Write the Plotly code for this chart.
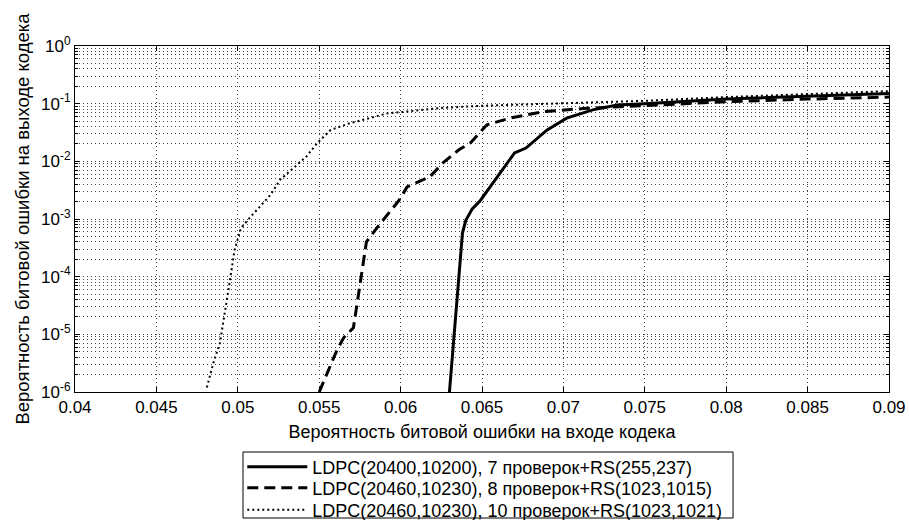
import plotly.graph_objects as go

# Input BER (channel) vs output BER (after decoding) for three concatenated schemes
ber_in_ldpc7 = [0.0630, 0.0638, 0.0640, 0.0644, 0.0649, 0.0655, 0.0662, 0.0670, 0.0677,
                0.0690, 0.0702, 0.0718, 0.0733, 0.0750, 0.0800, 0.0850, 0.0900]
ber_out_ldpc7 = [1e-6, 5.7e-4, 9.4e-4, 1.5e-3, 2.1e-3, 3.6e-3, 7e-3, 1.4e-2, 1.7e-2,
                 3.5e-2, 5.6e-2, 7.8e-2, 9.5e-2, 0.100, 0.120, 0.135, 0.150]

ber_in_ldpc8 = [0.0550, 0.0561, 0.0565, 0.0571, 0.0573, 0.0576, 0.0579, 0.0587, 0.0599,
                0.0604, 0.0618, 0.0626, 0.0636, 0.0643, 0.0653, 0.0667, 0.0688, 0.0714,
                0.0750, 0.0800, 0.0850, 0.0900]
ber_out_ldpc8 = [1e-6, 5.4e-6, 8.7e-6, 1.3e-5, 3e-5, 1e-4, 4e-4, 8e-4, 2.1e-3,
                 3.6e-3, 5.4e-3, 9.4e-3, 1.6e-2, 2.1e-2, 4.3e-2, 5.6e-2, 7.3e-2, 8.3e-2,
                 9.2e-2, 0.108, 0.120, 0.130]

ber_in_ldpc10 = [0.0481, 0.0485, 0.0489, 0.0492, 0.0495, 0.0498, 0.0502, 0.0508, 0.0520,
                 0.0526, 0.0534, 0.0542, 0.0549, 0.0557, 0.0569, 0.0581, 0.0592, 0.0604,
                 0.0624, 0.0650, 0.0700, 0.0750, 0.0800, 0.0850, 0.0900]
ber_out_ldpc10 = [1.2e-6, 3.2e-6, 7e-6, 2.6e-5, 8e-5, 2.9e-4, 7e-4, 1.1e-3, 2.6e-3,
                  4.8e-3, 7.7e-3, 1.2e-2, 2.1e-2, 3.5e-2, 4.6e-2, 5.6e-2, 6.8e-2, 7.3e-2,
                  8.4e-2, 0.092, 0.102, 0.112, 0.130, 0.148, 0.165]

series_names = [
    "LDPC(20400,10200), 7 проверок+RS(255,237)",
    "LDPC(20460,10230), 8 проверок+RS(1023,1015)",
    "LDPC(20460,10230), 10 проверок+RS(1023,1021)",
]

x_ticks = [0.04, 0.045, 0.05, 0.055, 0.06, 0.065, 0.07, 0.075, 0.08, 0.085, 0.09]
x_tick_text = ["0.04", "0.045", "0.05", "0.055", "0.06", "0.065", "0.07",
               "0.075", "0.08", "0.085", "0.09"]
y_exponents = [-6, -5, -4, -3, -2, -1, 0]

y_ticks = [10.0 ** e for e in y_exponents]
y_tick_text = ["10<sup>%d</sup>" % e for e in y_exponents]
y_minor = [m * 10.0 ** e for e in y_exponents[:-1] for m in range(2, 10)]

FONT = "Liberation Sans, Arial, sans-serif"
GRID = "#444444"

styles = [
    dict(color="black", width=3),
    dict(color="black", width=3, dash="11px,6px"),
    dict(color="black", width=2, dash="2px,3px"),
]
xs = [ber_in_ldpc7, ber_in_ldpc8, ber_in_ldpc10]
ys = [ber_out_ldpc7, ber_out_ldpc8, ber_out_ldpc10]
legend_ids = ["legend", "legend2", "legend3"]

fig = go.Figure()
for x, y, name, st, lg in zip(xs, ys, series_names, styles, legend_ids):
    fig.add_trace(go.Scatter(x=x, y=y, mode="lines", name=name, line=st, legend=lg))

# one legend per entry (tight row spacing), framed by a single box
row_y = [-0.2168, -0.2775, -0.341]
legend_common = dict(
    x=0.2055, xanchor="left", yanchor="middle",
    bgcolor="rgba(0,0,0,0)", borderwidth=0,
    font=dict(family=FONT, size=18, color="black"),
    itemwidth=60,
)

fig.update_layout(
    width=909, height=520,
    margin=dict(l=75, r=20, t=46, b=128, autoexpand=False),
    paper_bgcolor="white", plot_bgcolor="white",
    font=dict(family=FONT, size=17, color="black"),
    showlegend=True,
    legend=dict(y=row_y[0], **legend_common),
    legend2=dict(y=row_y[1], **legend_common),
    legend3=dict(y=row_y[2], **legend_common),
    shapes=[dict(type="rect", xref="paper", yref="paper",
                 x0=0.2064, x1=0.8084, y0=-0.3642, y1=-0.1734,
                 line=dict(color="black", width=1), fillcolor="rgba(0,0,0,0)",
                 layer="below")],
)

fig.update_xaxes(
    range=[0.04, 0.09],
    tickmode="array", tickvals=x_ticks, ticktext=x_tick_text,
    ticks="inside", ticklen=5, tickcolor="black", tickwidth=1,
    showline=True, linecolor="black", linewidth=1, mirror="allticks",
    showgrid=True, gridcolor=GRID, gridwidth=1, griddash="1px,3px",
    zeroline=False, automargin=False,
    tickfont=dict(family=FONT, size=17),
    title=dict(text="Вероятность битовой ошибки на входе кодека",
               font=dict(family=FONT, size=18), standoff=8),
)

fig.update_yaxes(
    type="log", range=[-6, 0],
    tickmode="array", tickvals=y_ticks, ticktext=y_tick_text,
    ticks="inside", ticklen=5, tickcolor="black", tickwidth=1,
    showline=True, linecolor="black", linewidth=1, mirror="allticks",
    showgrid=True, gridcolor=GRID, gridwidth=1, griddash="1px,3px",
    minor=dict(tickmode="array", tickvals=y_minor, ticks="inside", ticklen=3,
               tickcolor="black", showgrid=True, gridcolor=GRID, gridwidth=1,
               griddash="1px,3px"),
    zeroline=False, automargin=False,
    tickfont=dict(family=FONT, size=17),
    title=dict(text="Вероятность битовой ошибки на выходе кодека",
               font=dict(family=FONT, size=18.5), standoff=6),
)

fig.write_html("out.html")
